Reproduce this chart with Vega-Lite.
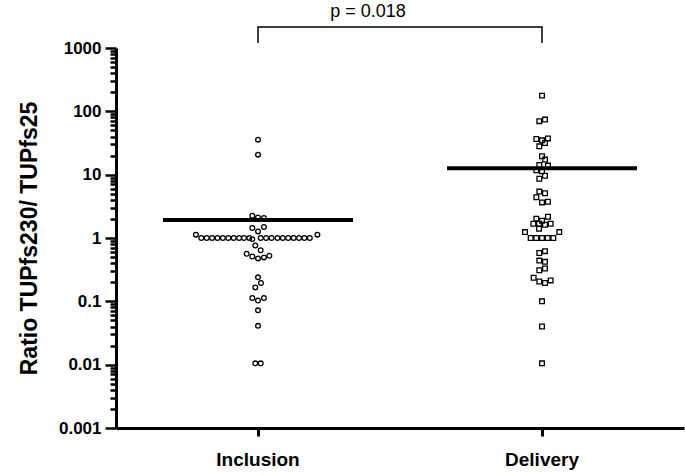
{
  "$schema": "https://vega.github.io/schema/vega-lite/v6.json",
  "width": 568,
  "height": 380,
  "autosize": "none",
  "padding": {"left": 116, "top": 48, "right": 1, "bottom": 47},
  "background": "white",
  "config": {
    "view": {"stroke": null},
    "font": "Liberation Sans"
  },
  "datasets": {
    "pts": [
      {"group": "Inclusion", "value": 35.7, "k": 0},
      {"group": "Inclusion", "value": 20.7, "k": 0},
      {"group": "Inclusion", "value": 2.25, "k": -1.05},
      {"group": "Inclusion", "value": 2.11, "k": 0},
      {"group": "Inclusion", "value": 2.07, "k": 1.1},
      {"group": "Inclusion", "value": 1.44, "k": -1.05},
      {"group": "Inclusion", "value": 1.27, "k": 0},
      {"group": "Inclusion", "value": 1.49, "k": 1.1},
      {"group": "Inclusion", "value": 1.13, "k": -11.5},
      {"group": "Inclusion", "value": 1, "k": -10.5},
      {"group": "Inclusion", "value": 1, "k": -9.5},
      {"group": "Inclusion", "value": 1, "k": -8.5},
      {"group": "Inclusion", "value": 1, "k": -7.5},
      {"group": "Inclusion", "value": 1, "k": -6.5},
      {"group": "Inclusion", "value": 1, "k": -5.5},
      {"group": "Inclusion", "value": 1, "k": -4.5},
      {"group": "Inclusion", "value": 1, "k": -3.5},
      {"group": "Inclusion", "value": 1, "k": -2.6},
      {"group": "Inclusion", "value": 1, "k": -1.6},
      {"group": "Inclusion", "value": 0.96, "k": -1.05},
      {"group": "Inclusion", "value": 1, "k": 0.5},
      {"group": "Inclusion", "value": 1, "k": 1.5},
      {"group": "Inclusion", "value": 1, "k": 2.5},
      {"group": "Inclusion", "value": 1, "k": 3.6},
      {"group": "Inclusion", "value": 1, "k": 4.6},
      {"group": "Inclusion", "value": 1, "k": 5.6},
      {"group": "Inclusion", "value": 1, "k": 6.6},
      {"group": "Inclusion", "value": 1, "k": 7.6},
      {"group": "Inclusion", "value": 1, "k": 8.6},
      {"group": "Inclusion", "value": 1, "k": 9.6},
      {"group": "Inclusion", "value": 1.13, "k": 11},
      {"group": "Inclusion", "value": 0.76, "k": -0.5},
      {"group": "Inclusion", "value": 0.64, "k": 0.5},
      {"group": "Inclusion", "value": 0.565, "k": -2.1},
      {"group": "Inclusion", "value": 0.51, "k": -1.05},
      {"group": "Inclusion", "value": 0.476, "k": 0},
      {"group": "Inclusion", "value": 0.494, "k": 1.1},
      {"group": "Inclusion", "value": 0.525, "k": 2.1},
      {"group": "Inclusion", "value": 0.239, "k": 0},
      {"group": "Inclusion", "value": 0.195, "k": 0.55},
      {"group": "Inclusion", "value": 0.166, "k": -0.5},
      {"group": "Inclusion", "value": 0.113, "k": -1.05},
      {"group": "Inclusion", "value": 0.103, "k": 0},
      {"group": "Inclusion", "value": 0.113, "k": 1.1},
      {"group": "Inclusion", "value": 0.072, "k": 0},
      {"group": "Inclusion", "value": 0.041, "k": 0},
      {"group": "Inclusion", "value": 0.0105, "k": -0.5},
      {"group": "Inclusion", "value": 0.0105, "k": 0.5},
      {"group": "Delivery", "value": 177, "k": 0},
      {"group": "Delivery", "value": 70, "k": -0.5},
      {"group": "Delivery", "value": 74, "k": 0.55},
      {"group": "Delivery", "value": 36.6, "k": -1.05},
      {"group": "Delivery", "value": 34.8, "k": 0},
      {"group": "Delivery", "value": 37.4, "k": 1.1},
      {"group": "Delivery", "value": 31.6, "k": 0.55},
      {"group": "Delivery", "value": 28, "k": -0.5},
      {"group": "Delivery", "value": 19.5, "k": 0},
      {"group": "Delivery", "value": 17.3, "k": 0.55},
      {"group": "Delivery", "value": 14.2, "k": -0.5},
      {"group": "Delivery", "value": 13.9, "k": 1.1},
      {"group": "Delivery", "value": 11.7, "k": -1.05},
      {"group": "Delivery", "value": 11.3, "k": 0},
      {"group": "Delivery", "value": 9.6, "k": 0.55},
      {"group": "Delivery", "value": 8.6, "k": -0.5},
      {"group": "Delivery", "value": 5.4, "k": -0.5},
      {"group": "Delivery", "value": 5.1, "k": 0.55},
      {"group": "Delivery", "value": 4.4, "k": -1.05},
      {"group": "Delivery", "value": 3.65, "k": 0},
      {"group": "Delivery", "value": 3.74, "k": 1.1},
      {"group": "Delivery", "value": 2.17, "k": 1.1},
      {"group": "Delivery", "value": 2.02, "k": -1.05},
      {"group": "Delivery", "value": 1.88, "k": 0},
      {"group": "Delivery", "value": 1.68, "k": -1.6},
      {"group": "Delivery", "value": 1.68, "k": -0.55},
      {"group": "Delivery", "value": 1.62, "k": 0.55},
      {"group": "Delivery", "value": 1.68, "k": 1.6},
      {"group": "Delivery", "value": 1.4, "k": -0.55},
      {"group": "Delivery", "value": 1.24, "k": -3.15},
      {"group": "Delivery", "value": 1.24, "k": 3.2},
      {"group": "Delivery", "value": 1, "k": -2.1},
      {"group": "Delivery", "value": 1, "k": -1.05},
      {"group": "Delivery", "value": 1, "k": 0},
      {"group": "Delivery", "value": 1, "k": 1.05},
      {"group": "Delivery", "value": 1, "k": 2.1},
      {"group": "Delivery", "value": 0.58, "k": -0.5},
      {"group": "Delivery", "value": 0.62, "k": 0.55},
      {"group": "Delivery", "value": 0.44, "k": -0.5},
      {"group": "Delivery", "value": 0.42, "k": 0.55},
      {"group": "Delivery", "value": 0.31, "k": -0.5},
      {"group": "Delivery", "value": 0.33, "k": 0.55},
      {"group": "Delivery", "value": 0.236, "k": -1.55},
      {"group": "Delivery", "value": 0.206, "k": -0.5},
      {"group": "Delivery", "value": 0.195, "k": 0.55},
      {"group": "Delivery", "value": 0.214, "k": 1.6},
      {"group": "Delivery", "value": 0.1, "k": 0},
      {"group": "Delivery", "value": 0.04, "k": 0},
      {"group": "Delivery", "value": 0.0105, "k": 0}
    ],
    "means": [
      {"group": "Inclusion", "value": 1.92},
      {"group": "Delivery", "value": 12.6}
    ],
    "bracket": [
      {"group": "Inclusion", "value": 1199, "o": 1},
      {"group": "Inclusion", "value": 2146, "o": 2},
      {"group": "Delivery", "value": 2146, "o": 3},
      {"group": "Delivery", "value": 1199, "o": 4}
    ],
    "ptext": [
      {"group": "Inclusion", "value": 3700, "label": "p = 0.018"}
    ]
  },
  "encoding": {
    "x": {
      "field": "group",
      "type": "nominal",
      "sort": ["Inclusion", "Delivery"],
      "scale": {"domain": ["Inclusion", "Delivery"], "paddingInner": 0, "paddingOuter": 0},
      "axis": {
        "title": null,
        "labelAngle": 0,
        "labelFont": "Liberation Sans",
        "labelFontSize": 19,
        "labelFontWeight": "bold",
        "labelColor": "black",
        "labelPadding": 14,
        "domainColor": "black",
        "domainWidth": 3,
        "tickColor": "black",
        "tickWidth": 3,
        "tickSize": 8
      }
    },
    "y": {
      "field": "value",
      "type": "quantitative",
      "scale": {"type": "log", "domain": [0.001, 1000], "nice": false},
      "axis": {
        "title": "Ratio TUPfs230/ TUPfs25",
        "titleFont": "Liberation Sans",
        "titleFontSize": 23,
        "titleFontWeight": "bold",
        "titleColor": "black",
        "titlePadding": 17,
        "grid": false,
        "values": [0.001,0.002,0.003,0.004,0.005,0.006,0.007,0.008,0.009,0.01,0.02,0.03,0.04,0.05,0.06,0.07,0.08,0.09,0.1,0.2,0.3,0.4,0.5,0.6,0.7,0.8,0.9,1,2,3,4,5,6,7,8,9,10,20,30,40,50,60,70,80,90,100,200,300,400,500,600,700,800,900,1000],
        "labelExpr": "abs(log(datum.value)/LN10 - round(log(datum.value)/LN10)) < 1e-6 ? format(datum.value, '~g') : ''",
        "labelOverlap": false,
        "labelFont": "Liberation Sans",
        "labelFontSize": 17,
        "labelFontWeight": "bold",
        "labelColor": "black",
        "labelPadding": 4,
        "domainColor": "black",
        "domainWidth": 3,
        "tickColor": "black",
        "tickWidth": 2.5,
        "tickSize": {"condition": {"test": "abs(log(datum.value)/LN10 - round(log(datum.value)/LN10)) < 1e-6", "value": 11}, "value": 6}
      }
    }
  },
  "layer": [
    {
      "data": {"name": "pts"},
      "mark": {"type": "point", "filled": false, "stroke": "black", "strokeWidth": 1.3, "size": 22, "opacity": 1},
      "encoding": {
        "xOffset": {"field": "k", "type": "quantitative", "scale": {"domain": [-26.3, 26.3]}},
        "shape": {"field": "group", "type": "nominal", "scale": {"domain": ["Inclusion", "Delivery"], "range": ["circle", "square"]}, "legend": null}
      }
    },
    {
      "data": {"name": "means"},
      "mark": {"type": "tick", "color": "black", "size": 190, "thickness": 4, "opacity": 1}
    },
    {
      "data": {"name": "bracket"},
      "mark": {"type": "line", "color": "black", "strokeWidth": 1.5},
      "encoding": {"order": {"field": "o", "type": "quantitative"}}
    },
    {
      "data": {"name": "ptext"},
      "mark": {"type": "text", "font": "Liberation Sans", "fontSize": 18, "color": "black", "dx": 110, "baseline": "middle", "align": "center"},
      "encoding": {"text": {"field": "label", "type": "nominal"}}
    }
  ]
}
